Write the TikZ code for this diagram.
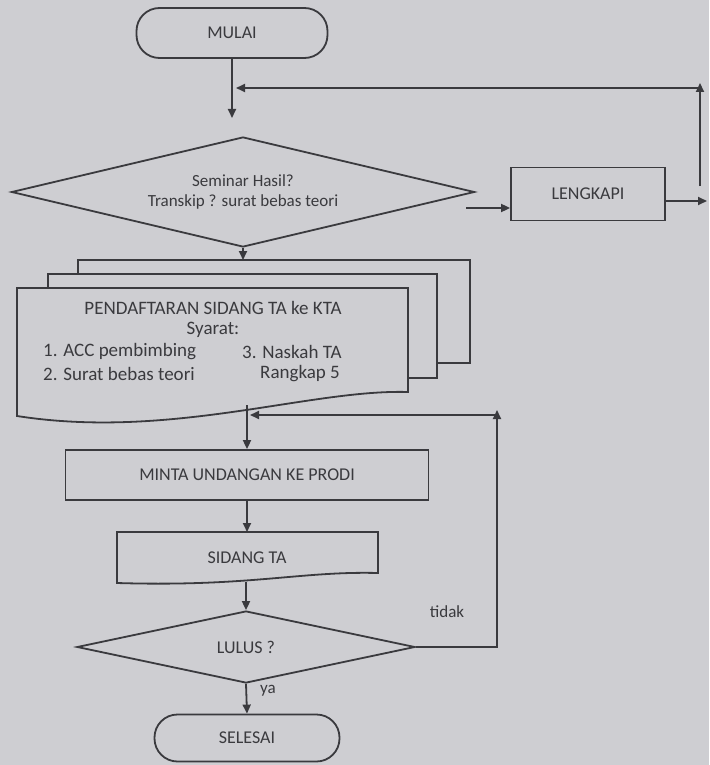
\documentclass[tikz,border=0pt]{standalone}
\usepackage{fontspec}
\setmainfont{Carlito}
\usetikzlibrary{shapes.geometric,arrows.meta}
\definecolor{paper}{RGB}{206,206,210}
\definecolor{ink}{RGB}{58,58,62}
\begin{document}
\begin{tikzpicture}[x=1pt,y=-1pt,
  line/.style={draw=ink,line width=1.8pt},
  arr/.style={line,-{Triangle[length=9pt,width=8pt]}},
  lbl/.style={text=ink,font=\fontsize{18}{21}\selectfont},
  doctext/.style={text=ink,font=\fontsize{19}{22}\selectfont,inner sep=0pt},
  term/.style={line,rounded corners=23pt,lbl},
  proc/.style={line,lbl},
  dec/.style={line,diamond,inner sep=0pt,aspect=4,lbl},
  docshape/.style={line,fill=paper}
]
\fill[paper] (0,0) rectangle (709,765);
\useasboundingbox (0,0) rectangle (709,765);

% terminals and process boxes
\node[term,minimum width=191pt,minimum height=50pt] (mulai) at (232,33) {MULAI};
\node[dec,minimum width=463pt,minimum height=110pt,align=center,font=\fontsize{17}{20}\selectfont] (d1) at (243,192) {Seminar Hasil?\\Transkip ? surat bebas teori};
\node[proc,minimum width=154pt,minimum height=53pt] (lengkapi) at (588,194) {LENGKAPI};

% multi-document stack
\filldraw[docshape] (78,260) rectangle (470,363);
\filldraw[docshape] (48,274) rectangle (437,378);
\filldraw[docshape] (17,288) -- (408,288) -- (408,392) .. controls (310,389) and (170,440) .. (17,416) -- cycle;
\node[doctext] (doctitle) at (213,308) {PENDAFTARAN SIDANG TA ke KTA};
\node[doctext] (syarat) at (213,330) {Syarat:};
\node[doctext,anchor=west] (s1) at (43,352) {1. ACC pembimbing};
\node[doctext,anchor=west] (s3) at (242,352) {3. Naskah TA};
\node[doctext,anchor=west] (s2) at (43,374) {2. Surat bebas teori};
\node[doctext,anchor=west] (s4) at (260,374) {Rangkap 5};

\node[proc,minimum width=363pt,minimum height=50pt] (minta) at (247,475) {MINTA UNDANGAN KE PRODI};

% SIDANG TA document
\filldraw[docshape] (117,532) -- (378,532) -- (378,573) .. controls (300,571) and (250,587) .. (117,583) -- cycle;
\node[lbl] (sidang) at (247,558) {SIDANG TA};

\node[dec,minimum width=338pt,minimum height=72pt] (lulus) at (246,647) {LULUS ?};
\node[term,minimum width=185pt,minimum height=47pt] (selesai) at (247,738) {SELESAI};

% coordinates
\coordinate (j1) at (232,118);
\coordinate (fbL) at (236,88);
\coordinate (r0) at (466,208);
\coordinate (r1) at (707,201);
\coordinate (r2) at (700,186);
\coordinate (r3) at (700,83);
\coordinate (r4) at (700,88);
\coordinate (stackTop) at (243,260);
\coordinate (docB) at (247,405);
\coordinate (sidT) at (247,532);
\coordinate (sidB) at (246,582);
\coordinate (tT) at (497,410);
\coordinate (tC) at (497,415);
\coordinate (mJ) at (250,415);

% connectors
\draw[arr] (mulai.south) -- (j1);
\draw[arr] (r0) -- (lengkapi.west |- r0);
\draw[arr] (lengkapi.east |- r1) -- (r1);
\draw[arr] (r2) -- (r3);
\draw[arr] (r4) -- (fbL);
\draw[arr] (d1.south) -- (stackTop);
\draw[arr] (docB) -- (minta.north);
\draw[arr] (minta.south) -- (sidT);
\draw[arr] (sidB) -- (lulus.north);
\draw[arr] (lulus.east) -| (tT);
\draw[arr] (tC) -- (mJ);
\draw[arr] (lulus.south) -- (selesai.north);

% labels
\node[lbl,font=\fontsize{17}{20}\selectfont] (tidak) at (447,612) {tidak};
\node[lbl,font=\fontsize{17}{20}\selectfont] (ya) at (268,691) {ya};
\end{tikzpicture}
\end{document}
